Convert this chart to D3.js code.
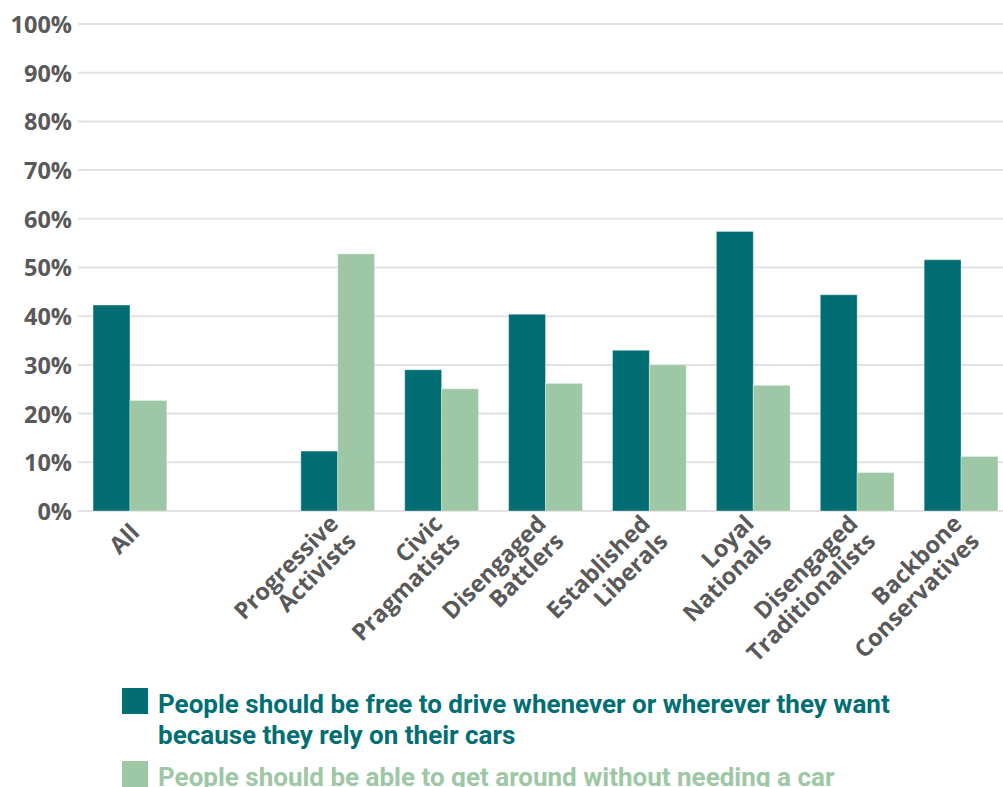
<!DOCTYPE html>
<html>
<head>
<meta charset="utf-8">
<script src="https://cdn.jsdelivr.net/npm/d3@7"></script>
<style>
	body { margin: 0; background: #fff; }
	svg { display: block; }
	.grid-line { stroke: #e2e2e2; stroke-width: 2; }
	.y-label, .x-label { font-family: "Open Sans", sans-serif; font-weight: 700; fill: #595959; }
	.legend-text { font-family: "Roboto", sans-serif; font-weight: 700; }
</style>
</head>
<body>
<script>
var categories = ["All", "", "Progressive Activists", "Civic Pragmatists", "Disengaged Battlers",
	"Established Liberals", "Loyal Nationals", "Disengaged Traditionalists", "Backbone Conservatives"];
var categoryLines = [["All"], [], ["Progressive", "Activists"], ["Civic", "Pragmatists"], ["Disengaged", "Battlers"],
	["Established", "Liberals"], ["Loyal", "Nationals"], ["Disengaged", "Traditionalists"], ["Backbone", "Conservatives"]];
var freeToDrive = [42.3, null, 12.3, 29.0, 40.4, 33.0, 57.4, 44.4, 51.6];
var withoutCar = [22.7, null, 52.8, 25.1, 26.2, 30.0, 25.8, 7.9, 11.2];
var yTicks = [0, 10, 20, 30, 40, 50, 60, 70, 80, 90, 100];
var seriesNames = ["People should be free to drive whenever or wherever they want|because they rely on their cars",
	"People should be able to get around without needing a car"];
var colours = ["#006e73", "#9dc7a5"];

var width = 1003, height = 787;
var svg = d3.select("body").append("svg")
	.attr("width", width)
	.attr("height", height);

var x = d3.scaleBand()
	.domain(categories.map((d, i) => i))
	.range([78, 1013])
	.paddingInner(0.29)
	.paddingOuter(0.145);

var x1 = d3.scaleBand()
	.domain([0, 1])
	.range([0, x.bandwidth()]);

var y = d3.scaleLinear()
	.domain([0, 100])
	.range([511, 24]);

// grid
svg.append("g").selectAll("line")
	.data(yTicks)
	.enter().append("line")
	.attr("class", "grid-line")
	.attr("x1", 78)
	.attr("x2", width)
	.attr("y1", d => y(d))
	.attr("y2", d => y(d));

var yAxis = d3.axisLeft(y)
	.tickValues(yTicks)
	.tickFormat(d => d + "%")
	.tickSize(0)
	.tickPadding(0);

var yAxisElem = svg.append("g")
	.attr("transform", "translate(72,0)")
	.call(yAxis);
yAxisElem.select(".domain").remove();
yAxisElem.selectAll("text")
	.attr("class", "y-label")
	.attr("dy", "0.36em")
	.style("font-size", "23.5px")
	.style("font-family", null);

// bars
var rows = categories.map((c, i) => ({ i: i, values: [freeToDrive[i], withoutCar[i]] }));
var groups = svg.append("g").selectAll("g")
	.data(rows.filter(r => r.values[0] != null))
	.enter().append("g")
	.attr("transform", d => "translate(" + x(d.i) + ",0)");

groups.selectAll("rect")
	.data(d => d.values.map((v, k) => ({ k: k, v: v })))
	.enter().append("rect")
	.attr("x", d => x1(d.k))
	.attr("width", x1.bandwidth())
	.attr("y", d => y(d.v))
	.attr("height", d => y(0) - y(d.v))
	.style("fill", d => colours[d.k])
	.style("stroke", "#ffffff")
	.style("stroke-opacity", 0.35)
	.style("stroke-width", 1);

// category labels, right-aligned lines rotated 45 degrees
var labels = svg.append("g").selectAll("text")
	.data(categoryLines.map((lines, i) => ({ i: i, lines: lines })).filter(d => d.lines.length))
	.enter().append("text")
	.attr("class", "x-label")
	.attr("text-anchor", "end")
	.style("font-size", "23.5px")
	.attr("transform", d => "translate(" + (x(d.i) + x.bandwidth() / 2 + 5) + ",528) rotate(-45)");

var lineHeight = 25;
labels.selectAll("tspan")
	.data(d => d.lines.map((t, k) => ({ t: t, k: k, n: d.lines.length })))
	.enter().append("tspan")
	.attr("x", 0)
	.attr("y", d => (d.k - (d.n - 1) / 2) * lineHeight)
	.attr("dy", "0.36em")
	.text(d => d.t);

// legend
var legend = svg.append("g").selectAll("g")
	.data(seriesNames)
	.enter().append("g")
	.attr("transform", (d, i) => "translate(122," + [688, 761][i] + ")");

legend.append("rect")
	.attr("width", 26)
	.attr("height", 26)
	.style("fill", (d, i) => colours[i]);

legend.append("text")
	.attr("class", "legend-text")
	.style("font-size", "26px")
	.style("fill", (d, i) => colours[i])
	.selectAll("tspan")
	.data(d => d.split("|"))
	.enter().append("tspan")
	.attr("x", 36)
	.attr("y", (d, k) => 25 + k * 31)
	.text(d => d);
</script>
</body>
</html>
